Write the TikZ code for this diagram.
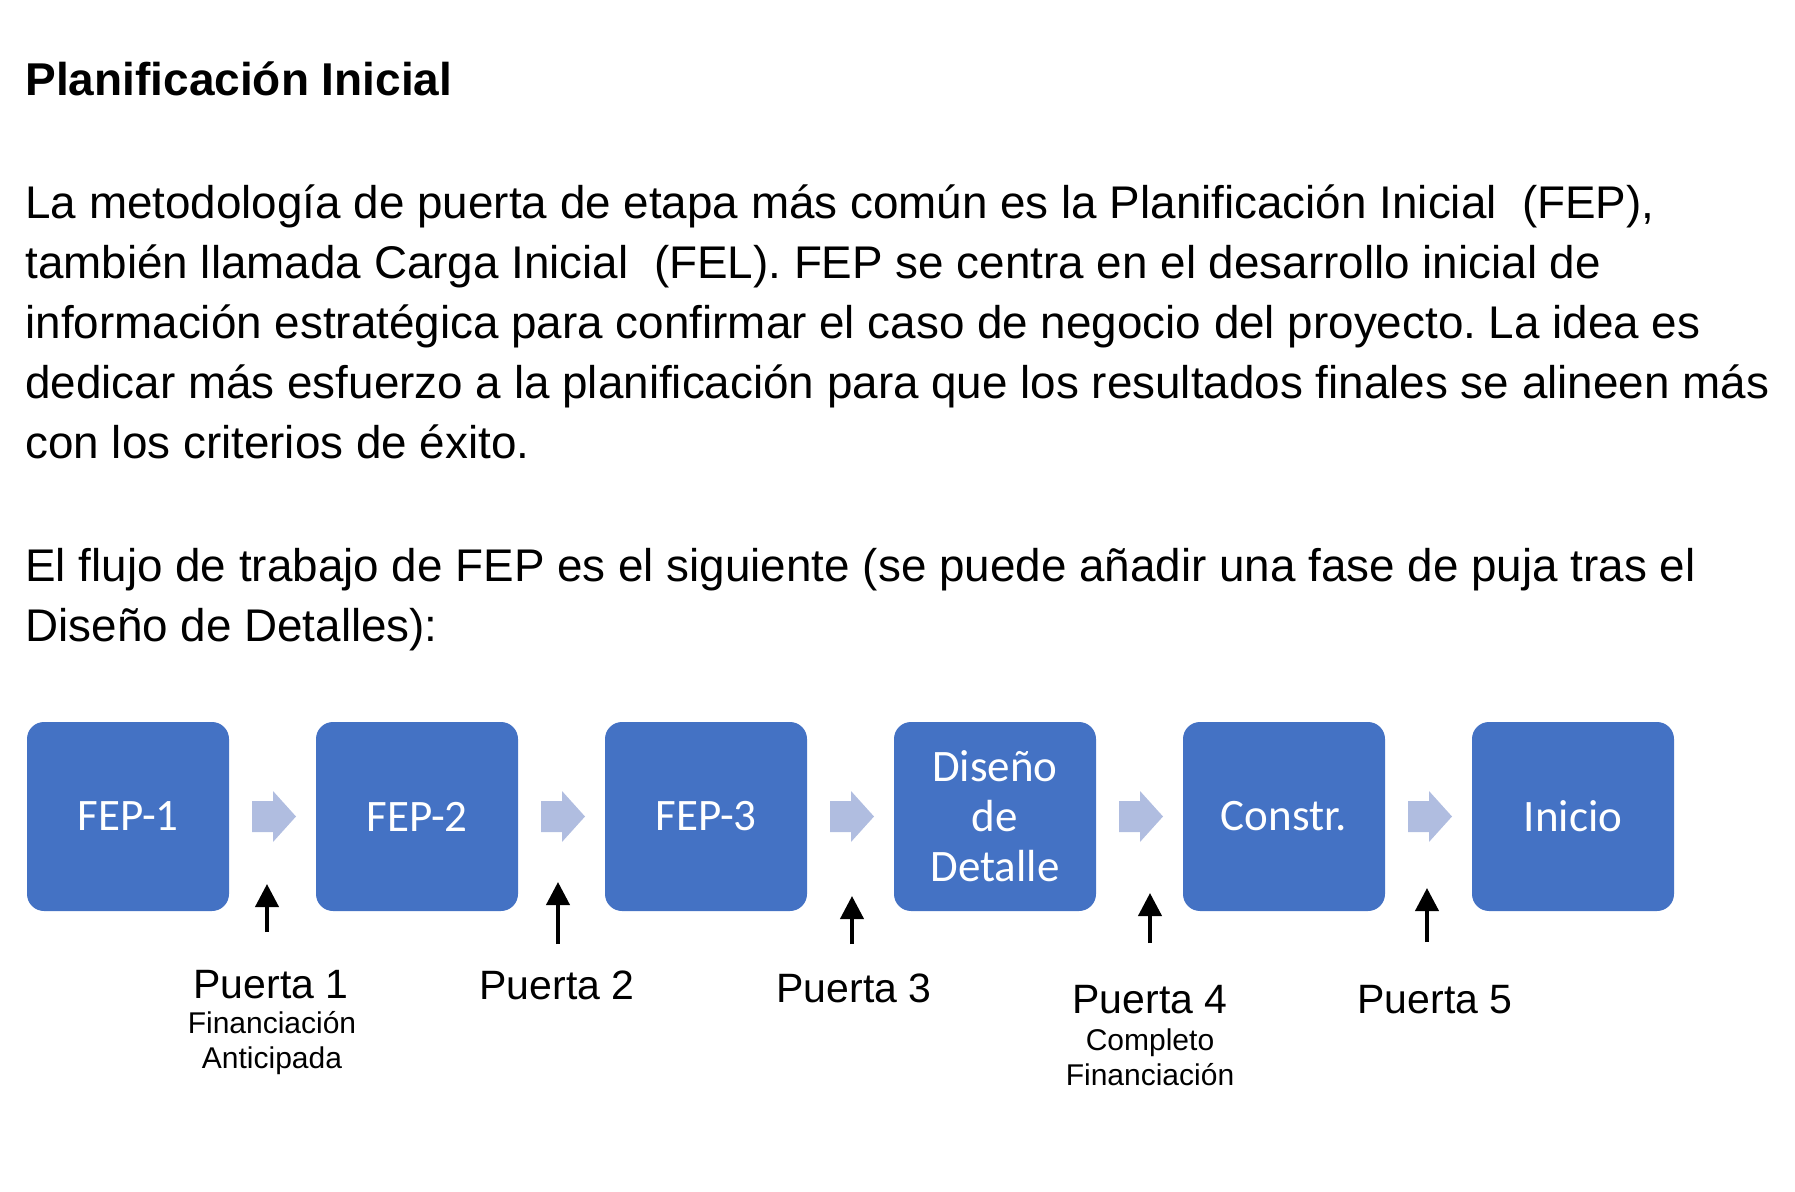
\documentclass[tikz,border=0pt]{standalone}
\usepackage{fontspec}
\usepackage{xcolor}
\usepackage{tikz}
\usetikzlibrary{arrows.meta}
\setmainfont{Liberation Sans}
\newfontfamily\boxfont{Carlito}
\definecolor{boxblue}{HTML}{4472C4}
\definecolor{chevblue}{HTML}{B0BDE0}
\frenchspacing

\begin{document}
\begin{tikzpicture}[x=0.5pt, y=-0.5pt,
    etapa/.style={fill=boxblue, rounded corners=8.5pt, minimum width=101pt, minimum height=94.5pt, inner sep=0pt, text=white, align=center, font=\boxfont\fontsize{22.5}{25}\selectfont},
    puerta/.style={anchor=base, inner sep=0pt, font=\fontsize{20.5}{24}\selectfont},
    nota/.style={anchor=base, inner sep=0pt, align=center, font=\fontsize{15}{17.25}\selectfont},
    flecha/.style={line width=2pt, -{Triangle[length=11.5pt, width=11.5pt]}},
    chevron/.style={fill=chevblue}]
    \useasboundingbox (0,0) rectangle (1795,1192);

    % Texto (ancla en la linea final)
    \node[anchor=base west, inner sep=0pt, font=\bfseries\fontsize{23}{30}\selectfont] (titulo) at (25,96) {Planificación Inicial};
    \node[anchor=base west, inner sep=0pt, align=left, font=\fontsize{22.9}{30}\selectfont] (parrafo1) at (25,459) {La metodología de puerta de etapa más común es la Planificación Inicial\ \ (FEP),\\
    también llamada Carga Inicial\ \ (FEL). FEP se centra en el desarrollo inicial de\\
    información estratégica para confirmar el caso de negocio del proyecto. La idea es\\
    dedicar más esfuerzo a la planificación para que los resultados finales se alineen más\\
    con los criterios de éxito.};
    \node[anchor=base west, inner sep=0pt, align=left, font=\fontsize{22.9}{30}\selectfont] (parrafo2) at (25,641) {El flujo de trabajo de FEP es el siguiente (se puede añadir una fase de puja tras el\\
    Diseño de Detalles):};

    % Etapas
    \node[etapa] (fep1) at (128,816.5) {FEP-1};
    \node[etapa] (fep2) at (417,816.5) {FEP-2};
    \node[etapa] (fep3) at (706,816.5) {FEP-3};
    \node[etapa] (diseno) at (995,816.5) {Diseño\\de\\Detalle};
    \node[etapa] (constr) at (1284,816.5) {Constr.};
    \node[etapa] (inicio) at (1573,816.5) {Inicio};

    % Flechas entre etapas
    \fill[chevron] (252,801) -- ++(21,0) -- ++(0,-10) -- ++(23,25.5) -- ++(-23,25.5) -- ++(0,-10) -- ++(-21,0) -- cycle;
    \fill[chevron] (541,801) -- ++(21,0) -- ++(0,-10) -- ++(23,25.5) -- ++(-23,25.5) -- ++(0,-10) -- ++(-21,0) -- cycle;
    \fill[chevron] (830,801) -- ++(21,0) -- ++(0,-10) -- ++(23,25.5) -- ++(-23,25.5) -- ++(0,-10) -- ++(-21,0) -- cycle;
    \fill[chevron] (1119,801) -- ++(21,0) -- ++(0,-10) -- ++(23,25.5) -- ++(-23,25.5) -- ++(0,-10) -- ++(-21,0) -- cycle;
    \fill[chevron] (1408,801) -- ++(21,0) -- ++(0,-10) -- ++(23,25.5) -- ++(-23,25.5) -- ++(0,-10) -- ++(-21,0) -- cycle;

    % Puertas
    \coordinate (g1a) at (267,932);
    \coordinate (g1b) at (267,884);
    \coordinate (g2a) at (558,944);
    \coordinate (g2b) at (558,882);
    \coordinate (g3a) at (852,944);
    \coordinate (g3b) at (852,896);
    \coordinate (g4a) at (1150,943);
    \coordinate (g4b) at (1150,893);
    \coordinate (g5a) at (1427,942);
    \coordinate (g5b) at (1427,888);
    \draw[flecha] (g1a) -- (g1b);
    \draw[flecha] (g2a) -- (g2b);
    \draw[flecha] (g3a) -- (g3b);
    \draw[flecha] (g4a) -- (g4b);
    \draw[flecha] (g5a) -- (g5b);

    \node[puerta] (p1) at (271,998) {Puerta 1};
    \node[nota] (p1n) at (272,1068) {Financiación\\Anticipada};
    \node[puerta] (p2) at (557,999) {Puerta 2};
    \node[puerta] (p3) at (854,1002) {Puerta 3};
    \node[puerta] (p4) at (1150,1013) {Puerta 4};
    \node[nota] (p4n) at (1150,1085) {Completo\\Financiación};
    \node[puerta] (p5) at (1435,1013) {Puerta 5};
\end{tikzpicture}
\end{document}
